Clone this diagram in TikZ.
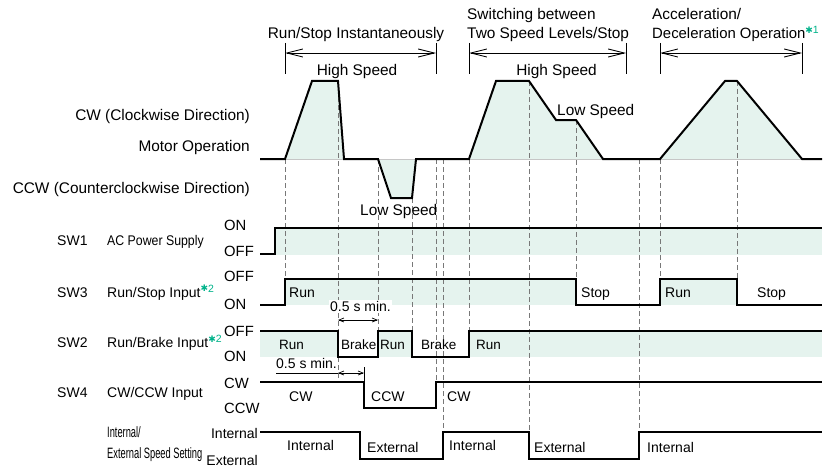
\documentclass[tikz,border=0pt]{standalone}
\usepackage{fontspec}
\setmainfont{Liberation Sans}
\newfontfamily\dingfont{DejaVu Sans}
\usetikzlibrary{arrows.meta}
\definecolor{bandcol}{RGB}{229,243,238}
\definecolor{notecol}{RGB}{0,178,138}
\definecolor{guidecol}{RGB}{120,120,120}
\newcommand{\hdfont}{\fontsize{15.4}{19}\selectfont}
\newcommand{\sgfont}{\fontsize{14}{17}\selectfont}
\newcommand{\lvfont}{\fontsize{14.8}{17}\selectfont}
\newcommand{\note}[1]{\raisebox{5pt}{\color{notecol}\fontsize{10.5}{10}\selectfont{\dingfont\fontsize{9}{9}\selectfont\raisebox{0.5pt}{\char"2731}}#1}}
\newcommand{\narrowtxt}[1]{{\fontsize{15}{15}\selectfont\scalebox{0.62}[1]{#1}}}
\newcommand{\motorcurve}{(260,159) -- (285,159) -- (312,81) -- (338,81) -- (344,159)
  -- (378,159) -- (391,198) -- (412,198) -- (416,159) -- (469,159) -- (496,81)
  -- (529,81) -- (556,120) -- (576,120) -- (603,159) -- (660,159) -- (725,81)
  -- (737,81) -- (802,159) -- (822,159)}

\begin{document}
\begin{tikzpicture}[x=1pt,y=-1pt,font=\sgfont,
    sig/.style={line width=2pt},
    guide/.style={guidecol,line width=0.9pt,dash pattern=on 5pt off 3pt},
    span/.style={line width=0.9pt,{Straight Barb[length=16pt,width=8pt]}-{Straight Barb[length=16pt,width=8pt]}},
    dim/.style={line width=0.7pt,{Straight Barb[length=5pt,width=4pt]}-{Straight Barb[length=5pt,width=4pt]}},
    lbl/.style={inner sep=0pt,anchor=base west},
    rlbl/.style={inner sep=0pt,anchor=base east}]
  \useasboundingbox (0,0) rectangle (826,468);
  % ---------------- shaded bands ------------------------------------
  \fill[bandcol] \motorcurve -- cycle;
  \draw[gray!45,line width=0.6pt] (260,159) -- (822,159);
  \fill[bandcol] (275,228) rectangle (822,255);
  \fill[bandcol] (285,279) rectangle (576,305);
  \fill[bandcol] (660,279) rectangle (737,305);
  \foreach \xa/\xb in {260/338,378/412,469/822}
    \fill[bandcol] (\xa,331) rectangle (\xb,357);
  % ---------------- timing guides -----------------------------------
  \foreach \x/\ya/\yb in {285/159/279,338/81/331,338/357/382,378/159/331,
      412/198/331,436/159/382,443/159/432,469/159/331,529/81/432,
      576/120/279,639/159/432,660/159/279,737/81/279}
    \draw[guide] (\x,\ya) -- (\x,\yb);
  % ---------------- section brackets --------------------------------
  \foreach \xa/\xb in {285/436,469/626,660/802} {
    \draw[line width=0.9pt] (\xa,43) -- (\xa,74) (\xb,43) -- (\xb,74);
    \draw[span] (\xa,53) -- (\xb,53);
  }
  \node[inner sep=0pt,anchor=base,font=\hdfont] (ttlrun) at (356,38.5) {Run/Stop Instantaneously};
  \node[lbl,font=\hdfont] (ttltwoa) at (467,19.7) {Switching between};
  \node[lbl,font=\hdfont] (ttltwob) at (467,38.7) {Two Speed Levels/Stop};
  \node[lbl,font=\hdfont] (ttlacca) at (652,19.7) {Acceleration/};
  \node[lbl,font=\fontsize{14.9}{19}\selectfont] (ttlaccb) at (652,38.7) {Deceleration Operation\note{1}};
  % ---------------- motor operation ---------------------------------
  \draw[sig] \motorcurve;
  \node[inner sep=0pt,anchor=base,font=\hdfont] (hione) at (357,75.5) {High Speed};
  \node[inner sep=0pt,anchor=base,font=\hdfont] (hitwo) at (556.5,75.5) {High Speed};
  \node[lbl,font=\hdfont] (loone) at (557,115) {Low Speed};
  \node[lbl,font=\hdfont] (lotwo) at (360,215) {Low Speed};
  \node[rlbl,font=\hdfont] (mcw) at (250,120.5) {CW (Clockwise Direction)};
  \node[rlbl,font=\hdfont] (mop) at (250,151.5) {Motor Operation};
  \node[rlbl,font=\hdfont] (mccw) at (250,193) {CCW (Counterclockwise Direction)};
  % ---------------- switch signals ----------------------------------
  \draw[sig] (260,254) -- (275,254) -- (275,228) -- (822,228);
  \draw[sig] (260,305) -- (285,305) -- (285,279) -- (576,279) -- (576,305)
    -- (660,305) -- (660,279) -- (737,279) -- (737,305) -- (822,305);
  \draw[sig] (260,331) -- (338,331) -- (338,357) -- (378,357) -- (378,331)
    -- (412,331) -- (412,357) -- (469,357) -- (469,331) -- (822,331);
  \draw[sig] (260,382) -- (364,382) -- (364,408) -- (436,408) -- (436,382) -- (822,382);
  \draw[sig] (260,432) -- (360,432) -- (360,459) -- (443,459) -- (443,432)
    -- (529,432) -- (529,459) -- (639,459) -- (639,432) -- (822,432);
  % row names
  \node[lbl] (swone) at (57,245) {SW1};
  \node[lbl] (swonetx) at (107,245) {\scalebox{0.88}[1]{AC Power Supply}};
  \node[lbl] (swthree) at (57,297) {SW3};
  \node[lbl] (swthreetx) at (107,297) {Run/Stop Input\note{2}};
  \node[lbl] (swtwo) at (57,347.5) {SW2};
  \node[lbl] (swtwotx) at (107,347.5) {Run/Brake Input\note{2}};
  \node[lbl] (swfour) at (57,397) {SW4};
  \node[lbl] (swfourtx) at (107,397) {CW/CCW Input};
  \node[lbl] (setone) at (107,437) {\narrowtxt{Internal/}};
  \node[lbl] (settwo) at (107,458) {\narrowtxt{External Speed Setting}};
  % levels
  \node[lbl,font=\lvfont] (lvon) at (224,230.5) {ON};
  \node[lbl,font=\lvfont] (lvoff) at (224,256) {OFF};
  \node[lbl,font=\lvfont] (lvoffb) at (224,281.5) {OFF};
  \node[lbl,font=\lvfont] (lvonb) at (224,309) {ON};
  \node[lbl,font=\lvfont] (lvoffc) at (224,336.5) {OFF};
  \node[lbl,font=\lvfont] (lvonc) at (224,361.5) {ON};
  \node[lbl,font=\lvfont] (lvcw) at (224,388) {CW};
  \node[lbl,font=\lvfont] (lvccw) at (224,413) {CCW};
  \node[rlbl] (lvint) at (258,438) {Internal};
  \node[rlbl] (lvext) at (258,465) {External};
  % states
  \node[lbl] (sthrA) at (289,297) {Run};
  \node[lbl] (sthrB) at (581,297.5) {Stop};
  \node[lbl] (sthrC) at (665,297) {Run};
  \node[lbl] (sthrD) at (757,297.5) {Stop};
  \node[lbl,font=\fontsize{13.5}{16}\selectfont] (stwoA) at (279,349) {Run};
  \node[lbl,font=\fontsize{13.5}{16}\selectfont] (stwoB) at (341,349) {Brake};
  \node[lbl,font=\fontsize{13.5}{16}\selectfont] (stwoC) at (380,349) {Run};
  \node[lbl,font=\fontsize{13.5}{16}\selectfont] (stwoD) at (421,349) {Brake};
  \node[lbl,font=\fontsize{13.5}{16}\selectfont] (stwoE) at (476,349) {Run};
  \node[lbl] (sfourA) at (289,401.5) {CW};
  \node[lbl] (sfourB) at (371,401.5) {CCW};
  \node[lbl] (sfourC) at (447,401.5) {CW};
  \node[lbl] (sintA) at (287,450) {Internal};
  \node[lbl] (sintB) at (367,452) {External};
  \node[lbl] (sintC) at (449,450) {Internal};
  \node[lbl] (sintD) at (534,452) {External};
  \node[lbl] (sintE) at (647,452) {Internal};
  % ---------------- minimum times -----------------------------------
  \node[lbl,inner sep=1pt,fill=white] (minone) at (329,311.5) {0.5 s min.};
  \draw[dim] (338,320) -- (378,320);
  \node[lbl] (mintwo) at (276,368) {0.5 s min.};
  \draw[line width=0.7pt] (276,373) -- (338,373);
  \draw[dim] (338,373) -- (364,373);
  \draw[line width=0.7pt] (364,367) -- (364,382);
\end{tikzpicture}
\end{document}
